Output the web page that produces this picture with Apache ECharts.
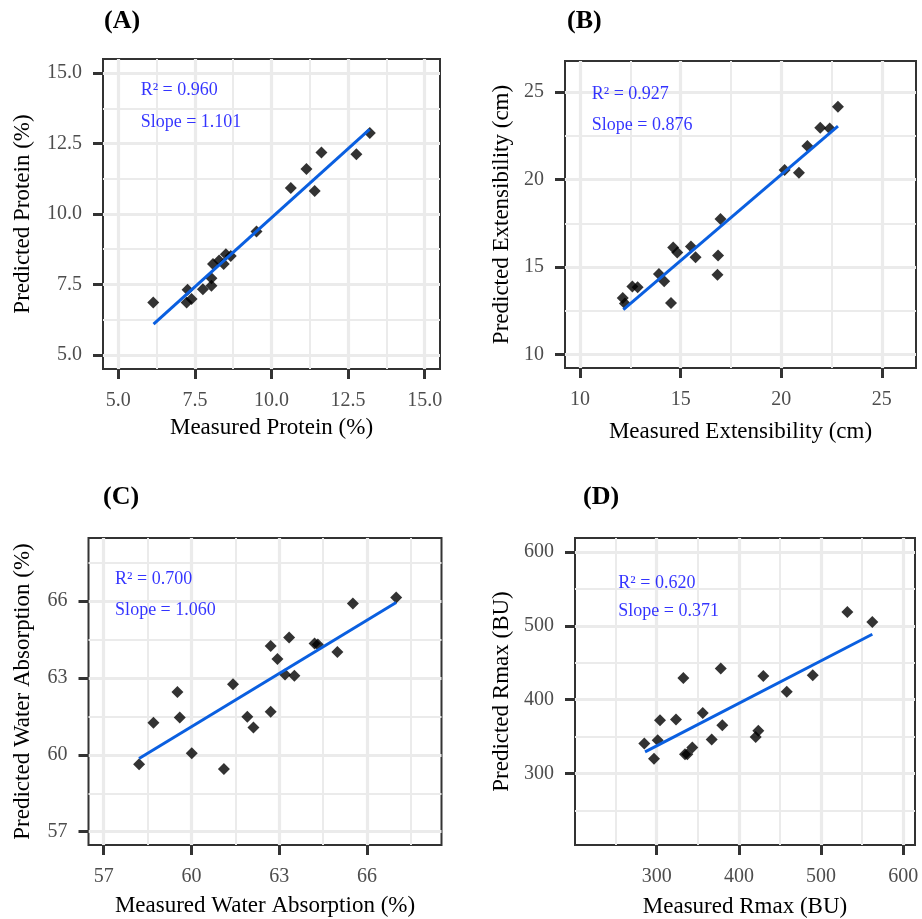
<!DOCTYPE html>
<html>
<head>
<meta charset="utf-8">
<script src="https://cdn.jsdelivr.net/npm/echarts@6/dist/echarts.min.js"></script>
<style>
  html, body { margin: 0; background: #fff; }
  #chart { width: 922px; height: 919px; }
</style>
</head>
<body>
<div id="chart"></div>
<script>
// (A) protein
const proteinMeasured = [6.14, 7.26, 7.23, 7.39, 7.76, 8.04, 8.04, 8.09, 8.29, 8.44, 8.51, 8.67, 9.51, 10.63, 11.14, 11.41, 11.63, 12.77, 13.21];
const proteinPredicted = [6.86, 7.31, 6.86, 6.98, 7.33, 7.45, 7.72, 8.23, 8.35, 8.23, 8.57, 8.51, 9.38, 10.92, 11.60, 10.82, 12.18, 12.12, 12.87];
const proteinFit = [[6.15, 6.09], [13.2, 13.0]];
const proteinStats = ["R² = 0.960", "Slope = 1.101"];
const proteinStatPos = [[5.73, 14.38], [5.73, 13.26]];
const proteinTicks = [5, 7.5, 10, 12.5, 15];
const proteinMinor = [6.25, 8.75, 11.25, 13.75];

// (B) extensibility
const extMeasured = [12.12, 12.23, 12.60, 12.86, 13.92, 14.18, 14.52, 14.63, 14.83, 15.51, 15.74, 16.83, 16.86, 16.98, 20.17, 20.88, 21.30, 21.94, 22.41, 22.82];
const extPredicted = [13.23, 12.91, 13.89, 13.84, 14.60, 14.18, 12.94, 16.11, 15.83, 16.17, 15.56, 14.56, 15.66, 17.75, 20.54, 20.39, 21.91, 22.95, 22.92, 24.15];
const extFit = [[12.15, 12.56], [22.82, 23.05]];
const extStats = ["R² = 0.927", "Slope = 0.876"];
const extStatPos = [[10.58, 24.87], [10.58, 23.1]];
const extTicks = [10, 15, 20, 25];
const extMinor = [12.5, 17.5, 22.5];

// (C) water absorption
const waterMeasured = [58.21, 58.70, 59.52, 59.60, 60.01, 61.11, 61.42, 61.91, 62.12, 62.71, 62.71, 62.94, 63.20, 63.34, 63.52, 64.21, 64.32, 64.99, 65.52, 67.00];
const waterPredicted = [59.63, 61.25, 62.46, 61.46, 60.06, 59.45, 62.76, 61.49, 61.07, 61.68, 64.25, 63.74, 63.14, 64.58, 63.09, 64.35, 64.31, 64.02, 65.91, 66.15];
const waterFit = [[58.21, 59.86], [67.0, 65.95]];
const waterStats = ["R² = 0.700", "Slope = 1.060"];
const waterStatPos = [[57.39, 66.86], [57.39, 65.65]];
const waterTicks = [57, 60, 63, 66];
const waterMinor = [58.5, 61.5, 64.5, 67.5];

// (D) Rmax
const rmaxMeasured = [284.9, 296.7, 301.2, 304.0, 323.5, 332.4, 334.4, 337.2, 343.3, 356.0, 366.9, 377.9, 379.8, 420.4, 423.6, 429.7, 458.2, 489.8, 531.9, 562.3];
const rmaxPredicted = [340.6, 319.8, 345.1, 372.2, 373.1, 429.4, 326.1, 326.1, 335.2, 382.0, 346.0, 442.1, 365.4, 349.5, 357.7, 432.1, 410.5, 433.1, 518.8, 505.2];
const rmaxFit = [[285.8, 329.2], [562.3, 488.6]];
const rmaxStats = ["R² = 0.620", "Slope = 0.371"];
const rmaxStatPos = [[253.3, 557.2], [253.3, 519.3]];
const rmaxTicks = [300, 400, 500, 600];
const rmaxMinor = [250, 350, 450, 550];

const FONT = "Liberation Serif";

const panels = [
  {
    tag: "(A)", tagPos: [99, 3],
    grid: { left: 103, top: 59, width: 337, height: 310 },
    x: proteinMeasured, y: proteinPredicted, fit: proteinFit, stats: proteinStats, statPos: proteinStatPos,
    xName: "Measured Protein (%)", yName: "Predicted Protein (%)",
    xRange: [4.5, 15.5], yRange: [4.5, 15.5], ticks: proteinTicks, minor: proteinMinor, digits: 1,
    xGap: 47, yGap: 69,
  },
  {
    tag: "(B)", tagPos: [562, 3],
    grid: { left: 565, top: 61, width: 351, height: 307 },
    x: extMeasured, y: extPredicted, fit: extFit, stats: extStats, statPos: extStatPos,
    xName: "Measured Extensibility (cm)", yName: "Predicted Extensibility (cm)",
    xRange: [9.25, 26.7], yRange: [9.23, 26.77], ticks: extTicks, minor: extMinor, digits: 0,
    xGap: 52, yGap: 52,
  },
  {
    tag: "(C)", tagPos: [98, 479],
    grid: { left: 88.5, top: 538, width: 353, height: 307 },
    x: waterMeasured, y: waterPredicted, fit: waterFit, stats: waterStats, statPos: waterStatPos,
    xName: "Measured Water Absorption (%)", yName: "Predicted Water Absorption (%)",
    xRange: [56.48, 68.55], yRange: [56.48, 68.47], ticks: waterTicks, minor: waterMinor, digits: 0,
    xGap: 49, yGap: 54,
  },
  {
    tag: "(D)", tagPos: [578, 479],
    grid: { left: 575, top: 538, width: 340, height: 307 },
    x: rmaxMeasured, y: rmaxPredicted, fit: rmaxFit, stats: rmaxStats, statPos: rmaxStatPos,
    xName: "Measured Rmax (BU)", yName: "Predicted Rmax (BU)",
    xRange: [200.6, 614.2], yRange: [203, 619], ticks: rmaxTicks, minor: rmaxMinor, digits: 0,
    xGap: 50, yGap: 62,
  },
];

function majorAxis(p, gridIndex, dim) {
  const isX = dim === "x";
  const range = isX ? p.xRange : p.yRange;
  return {
    type: "value",
    gridIndex,
    position: isX ? "bottom" : "left",
    min: range[0],
    max: range[1],
    name: isX ? p.xName : p.yName,
    nameLocation: "middle",
    nameGap: isX ? p.xGap : p.yGap,
    nameTextStyle: { fontFamily: FONT, fontSize: 23, color: "#000" },
    axisLine: { show: false },
    axisTick: { show: true, customValues: p.ticks, length: 10, lineStyle: { color: "#333", width: 3 } },
    axisLabel: {
      customValues: p.ticks,
      margin: isX ? 22 : 21,
      fontFamily: FONT,
      fontSize: 20,
      color: "#4D4D4D",
      formatter: (v) => Number(v).toFixed(p.digits),
    },
    splitLine: { show: true, lineStyle: { color: "#EBEBEB", width: 3.2 } },
  };
}

function minorAxis(p, gridIndex, dim) {
  const isX = dim === "x";
  const range = isX ? p.xRange : p.yRange;
  return {
    type: "value",
    gridIndex,
    position: isX ? "bottom" : "left",
    min: range[0],
    max: range[1],
    axisLine: { show: false },
    axisTick: { show: false, customValues: p.minor },
    axisLabel: { show: false, customValues: p.minor },
    splitLine: { show: true, lineStyle: { color: "#EBEBEB", width: 2 } },
  };
}

const grid = [], xAxis = [], yAxis = [], series = [], title = [];

panels.forEach((p, i) => {
  grid.push({ ...p.grid, show: true, borderColor: "#333", borderWidth: 2, backgroundColor: "transparent" });
  xAxis.push(majorAxis(p, i, "x"), minorAxis(p, i, "x"));
  yAxis.push(majorAxis(p, i, "y"), minorAxis(p, i, "y"));
  const xi = 2 * i, yi = 2 * i;
  title.push({
    text: p.tag, left: p.tagPos[0], top: p.tagPos[1],
    textStyle: { fontFamily: FONT, fontWeight: "bold", fontSize: 26, color: "#000" },
  });
  series.push({
    type: "scatter",
    xAxisIndex: xi, yAxisIndex: yi,
    data: p.x.map((v, k) => [v, p.y[k]]),
    symbol: "diamond",
    symbolSize: 12,
    itemStyle: { color: "#000" },
    silent: true,
    z: 3,
  });
  series.push({
    type: "line",
    xAxisIndex: xi, yAxisIndex: yi,
    data: p.fit,
    showSymbol: false,
    lineStyle: { color: "#0A5FE0", width: 3 },
    silent: true,
    z: 4,
  });
  series.push({
    type: "scatter",
    xAxisIndex: xi, yAxisIndex: yi,
    data: p.statPos.map((pos, k) => [pos[0], pos[1], p.stats[k]]),
    symbolSize: 0,
    silent: true,
    z: 5,
    label: {
      show: true,
      position: [0, 0],
      align: "left",
      verticalAlign: "middle",
      formatter: (d) => d.value[2],
      fontFamily: FONT,
      fontSize: 18,
      color: "#0000FF",
    },
  });
});

const chart = echarts.init(document.getElementById("chart"), null, { renderer: "canvas" });
chart.setOption({
  animation: false,
  backgroundColor: "#fff",
  title, grid, xAxis, yAxis, series,
});
</script>
</body>
</html>
